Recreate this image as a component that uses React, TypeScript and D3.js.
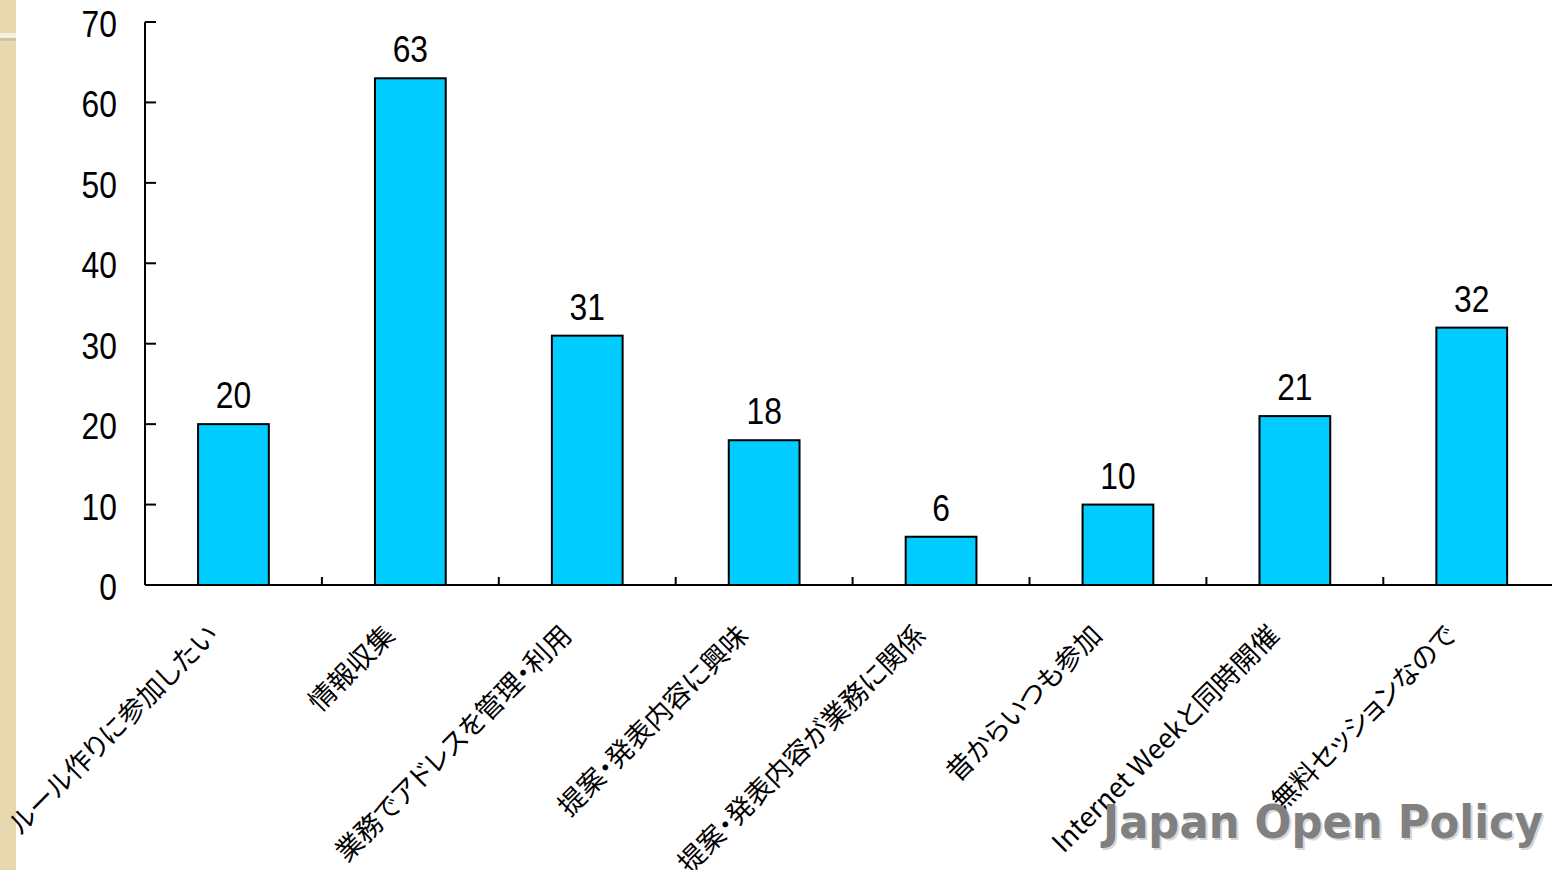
import React, { useEffect, useRef } from 'react';
import * as d3 from 'd3';

const categories = [
  'ルール作りに参加したい',
  '情報収集',
  '業務でアドレスを管理・利用',
  '提案・発表内容に興味',
  '提案・発表内容が業務に関係',
  '昔からいつも参加',
  'Internet Weekと同時開催',
  '無料セッションなので',
];
const values = [20, 63, 31, 18, 6, 10, 21, 32];
const yTicks = [0, 10, 20, 30, 40, 50, 60, 70];

const W = 1552;
const H = 870;

const App: React.FC = () => {
  const svgRef = useRef<SVGSVGElement>(null);

  useEffect(() => {
    if (!svgRef.current) return;
    const svg = d3.select(svgRef.current);
    svg.selectAll('*').remove();

    const left = 145;
    const step = 176.9;
    const x = d3.scaleBand<string>()
      .domain(categories)
      .range([left, left + step * categories.length])
      .paddingInner(0.6)
      .paddingOuter(0.3);

    const y = d3.scaleLinear().domain([0, 70]).range([585, 22]);

    // background
    svg.append('rect').attr('width', W).attr('height', H).attr('fill', '#fff');

    // textured strip on the left
    svg.append('rect').attr('x', 0).attr('y', 0).attr('width', 16).attr('height', H).attr('fill', '#e7d8b0');
    svg.append('rect').attr('x', 0).attr('y', 33).attr('width', 16).attr('height', 5).attr('fill', '#f6efdc');
    svg.append('rect').attr('x', 0).attr('y', 38).attr('width', 16).attr('height', 3).attr('fill', '#cfc3a3');

    const numFont = "'Liberation Sans Narrow', 'Liberation Sans', Arial, sans-serif";

    // bars
    svg.selectAll('.bar')
      .data(values)
      .enter().append('rect')
      .attr('class', 'bar')
      .attr('x', (_, i) => x(categories[i]) || 0)
      .attr('y', d => y(d))
      .attr('width', x.bandwidth())
      .attr('height', d => y(0) - y(d))
      .attr('fill', '#00ccff')
      .attr('stroke', '#000')
      .attr('stroke-width', 2);

    // value labels
    svg.selectAll('.val')
      .data(values)
      .enter().append('text')
      .attr('class', 'val')
      .attr('transform', (d, i) => `translate(${(x(categories[i]) || 0) + x.bandwidth() / 2},${y(d) - 16}) scale(0.86,1)`)
      .attr('text-anchor', 'middle')
      .attr('font-family', numFont)
      .attr('font-size', 37)
      .attr('fill', '#000')
      .text(d => String(d));

    // y axis
    svg.append('line')
      .attr('x1', left).attr('x2', left)
      .attr('y1', y(70)).attr('y2', y(0))
      .attr('stroke', '#000').attr('stroke-width', 2);

    svg.selectAll('.ytick')
      .data(yTicks)
      .enter().append('line')
      .attr('x1', left).attr('x2', left + 11)
      .attr('y1', d => y(d)).attr('y2', d => y(d))
      .attr('stroke', '#000').attr('stroke-width', 2);

    svg.selectAll('.ylab')
      .data(yTicks)
      .enter().append('text')
      .attr('transform', d => `translate(117,${y(d) + 15}) scale(0.86,1)`)
      .attr('text-anchor', 'end')
      .attr('font-family', numFont)
      .attr('font-size', 37)
      .attr('fill', '#000')
      .text(d => String(d));

    // x axis
    svg.append('line')
      .attr('x1', left).attr('x2', W)
      .attr('y1', y(0)).attr('y2', y(0))
      .attr('stroke', '#000').attr('stroke-width', 2);

    const half = x.step() * x.paddingInner() / 2;
    svg.selectAll('.xtick')
      .data(categories.slice(1))
      .enter().append('line')
      .attr('x1', d => (x(d) || 0) - half)
      .attr('x2', d => (x(d) || 0) - half)
      .attr('y1', y(0)).attr('y2', y(0) - 8)
      .attr('stroke', '#000').attr('stroke-width', 2);

    // category labels
    svg.selectAll('.xlab')
      .data(categories)
      .enter().append('text')
      .attr('transform', d => `translate(${(x(d) || 0) + x.bandwidth() / 2 - 14},637) rotate(-45)`)
      .attr('text-anchor', 'end')
      .attr('font-family', "'Noto Sans CJK JP', sans-serif")
      .attr('font-size', 27)
      .style('font-feature-settings', '"palt"')
      .attr('fill', '#000')
      .text(d => d);

    // watermark
    const wm = svg.append('g');
    wm.append('text')
      .attr('x', 1105).attr('y', 840)
      .attr('font-family', "'DejaVu Sans', sans-serif")
      .attr('font-weight', 'bold')
      .attr('font-size', 46)
      .attr('textLength', 440)
      .attr('lengthAdjust', 'spacingAndGlyphs')
      .attr('fill', '#d8d8d8')
      .text('Japan Open Policy');
    wm.append('text')
      .attr('x', 1103).attr('y', 838)
      .attr('font-family', "'DejaVu Sans', sans-serif")
      .attr('font-weight', 'bold')
      .attr('font-size', 46)
      .attr('textLength', 440)
      .attr('lengthAdjust', 'spacingAndGlyphs')
      .attr('fill', '#808080')
      .text('Japan Open Policy');
  }, []);

  return (
    <svg
      ref={svgRef}
      width={W}
      height={H}
      style={{ position: 'absolute', left: 0, top: 0, display: 'block' }}
    />
  );
};

export default App;
